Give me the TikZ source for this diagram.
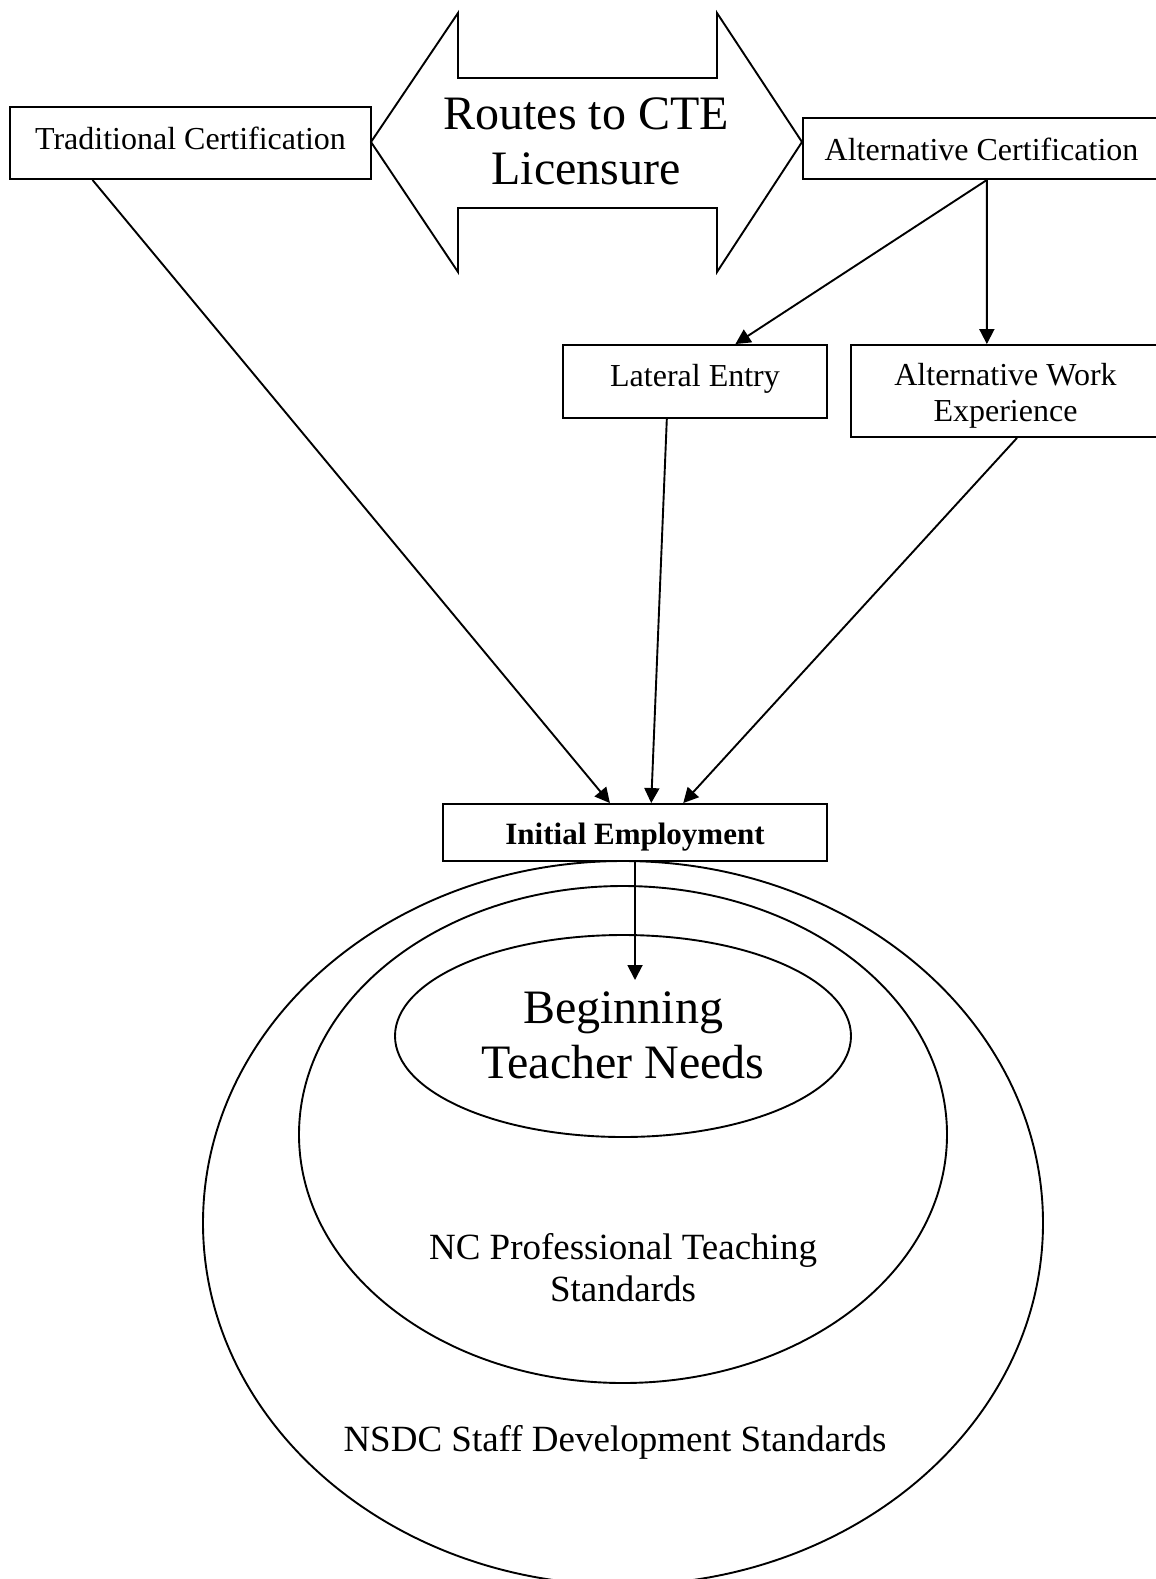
\documentclass[tikz,border=0pt]{standalone}
\usepackage{fontspec}
\setmainfont{Liberation Serif}
\usetikzlibrary{shapes.geometric,arrows.meta,calc}
\begin{document}
\begin{tikzpicture}[x=1pt,y=-1pt,
  line width=1.9pt,
  box/.style={draw, rectangle, inner sep=0pt,
    font=\fontsize{32}{36}\selectfont},
  ell/.style={draw, ellipse, inner sep=0pt},
  conn/.style={-{Triangle[length=15pt,width=15pt]}},
  bigtxt/.style={align=center, font=\fontsize{48}{55}\selectfont, inner sep=0pt},
  midtxt/.style={align=center, font=\fontsize{37}{42}\selectfont, inner sep=0pt}]
\useasboundingbox (0,0) rectangle (1156,1579);
\clip (0,0) rectangle (1156,1579);

% double arrow
\draw (371,142) -- (458,13) -- (458,78) -- (717,78) -- (717,13) -- (802,142)
  -- (717,272) -- (717,208) -- (458,208) -- (458,272) -- cycle;
\node[bigtxt] (routes) at (586,141) {Routes to CTE\\Licensure};

% boxes
\node[box, minimum width=361pt, minimum height=72pt, text height=22pt, text depth=9pt] (trad) at (190.5,143) {Traditional Certification};
\node[box, minimum width=357pt, minimum height=61pt, text height=23pt, text depth=0pt] (altc) at (981.5,148.5) {Alternative Certification};
\node[box, minimum width=264pt, minimum height=73pt, text height=22pt, text depth=13pt] (lat) at (695,381.5) {Lateral Entry};
\node[box, minimum width=309pt, minimum height=92pt, text height=10pt, text depth=22pt] (awe) at (1005.5,391)
  {\begin{tabular}[t]{@{}c@{}}Alternative Work\\Experience\end{tabular}};
\node[box, minimum width=384pt, minimum height=57pt, text height=23pt, text depth=0pt,
  font=\fontsize{31}{35}\selectfont\bfseries] (init) at (635,832.5) {Initial Employment};

% ellipses
\node[ell, minimum width=840pt, minimum height=724pt] (outer) at (623,1223) {};
\node[ell, minimum width=648pt, minimum height=497pt] (middle) at (623,1134.5) {};
\node[ell, minimum width=456pt, minimum height=202pt] (inner) at (623,1036) {};

\node[bigtxt] (btn) at (623,1035) {Beginning\\Teacher Needs};
\node[midtxt] (nc) at (623,1268) {NC Professional Teaching\\Standards};
\node[midtxt] (nsdc) at (615,1442) {NSDC Staff Development Standards};

% connectors
\draw[conn] ($(trad.south west)!0.23!(trad.south east)$) -- ($(init.north west)!0.435!(init.north east)$);
\draw[conn] ($(lat.south west)!0.394!(lat.south east)$) -- ($(init.north west)!0.542!(init.north east)$);
\draw[conn] ($(awe.south west)!0.537!(awe.south east)$) -- ($(init.north west)!0.625!(init.north east)$);
\draw[conn] ($(altc.south west)!0.515!(altc.south east)$) -- ($(lat.north west)!0.652!(lat.north east)$);
\draw[conn] ($(altc.south west)!0.515!(altc.south east)$) -- ($(awe.north west)!0.44!(awe.north east)$);
\coordinate (btend) at (635,980);
\draw[conn] (init.south) -- (btend);
\end{tikzpicture}
\end{document}
